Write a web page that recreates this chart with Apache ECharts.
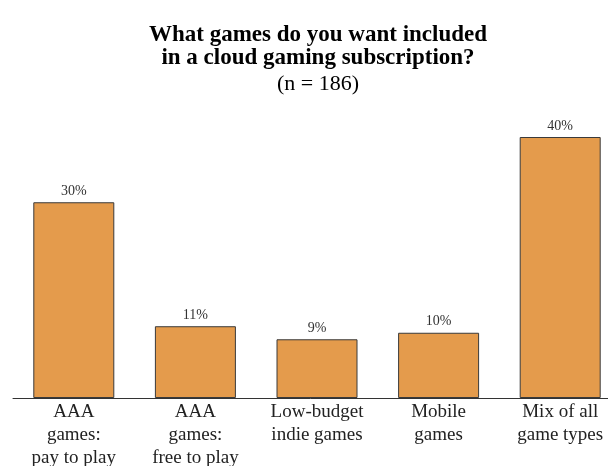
<!DOCTYPE html>
<html><head><meta charset="utf-8">
<script src="https://cdn.jsdelivr.net/npm/echarts@6/dist/echarts.min.js"></script>
<style>html,body{margin:0;padding:0;background:#fff}#c{width:608px;height:466px}</style>
</head><body><div id="c"></div>
<script>
const categories = ["AAA\ngames:\npay to play", "AAA\ngames:\nfree to play", "Low-budget\nindie games", "Mobile\ngames", "Mix of all\ngame types"];
const values = [30, 11, 9, 10, 40];
const titleText = "What games do you want included\nin a cloud gaming subscription?";
const subText = "(n = 186)";
const chart = echarts.init(document.getElementById('c'), null, {renderer: 'canvas'});
chart.setOption({
  backgroundColor: '#fff',
  animation: false,
  title: {
    text: titleText, subtext: subText, left: 313, top: 19, textAlign: 'center', itemGap: 2,
    textStyle: {fontFamily: 'Liberation Serif', fontWeight: 'bold', fontSize: 23, lineHeight: 23, color: '#000'},
    subtextStyle: {fontFamily: 'Liberation Serif', fontSize: 22, lineHeight: 24, color: '#000'}
  },
  grid: {left: 13, right: -13, top: 137, bottom: 68, containLabel: false, outerBoundsMode: 'none'},
  xAxis: {
    type: 'category', data: categories,
    axisLine: {lineStyle: {color: '#333', width: 1}},
    axisTick: {show: false},
    axisLabel: {fontFamily: 'Liberation Serif', fontSize: 19, lineHeight: 23, color: '#222', margin: 3, interval: 0}
  },
  yAxis: {type: 'value', min: 0, max: 40, show: false, splitLine: {show: false}},
  series: [{
    type: 'bar', data: values, barWidth: 81,
    itemStyle: {color: '#E49B4C', borderColor: '#3a3a3a', borderWidth: 1},
    label: {show: true, position: 'top', distance: 4, formatter: '{c}%', fontFamily: 'Liberation Serif', fontSize: 14, color: '#333'}
  }]
});
</script></body></html>
